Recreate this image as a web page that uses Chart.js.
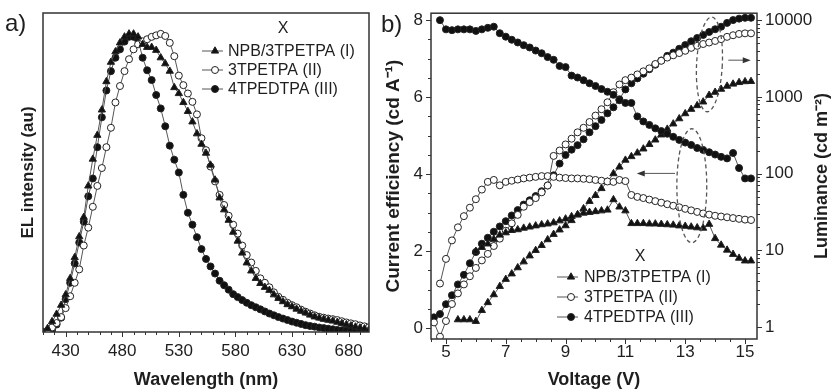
<!DOCTYPE html>
<html>
<head>
<meta charset="utf-8">
<script src="https://cdn.jsdelivr.net/npm/chart.js@4.4.0/dist/chart.umd.min.js"></script>
<style>
  body { margin: 0; background: #fff; }
  #wrap { position: relative; width: 834px; height: 392px; overflow: hidden; font-family: 'Liberation Sans', Arial, sans-serif; }
  canvas { position: absolute; top: 0; }
  #elChart { left: 0; }
  #ivlChart { left: 375px; }
  .tag { position: absolute; font-size: 24px; line-height: 24px; color: #1e1e1e; }
</style>
</head>
<body>
<div id="wrap">
  <canvas id="elChart" width="375" height="392"></canvas>
  <canvas id="ivlChart" width="459" height="392"></canvas>
  <div class="tag" style="left:5px; top:11px">a)</div>
  <div class="tag" style="left:381px; top:12px">b)</div>
</div>
<script>
// ---- panel a: EL spectra ----
const wavelength = [
  410, 414, 418, 422, 426, 430, 434, 438, 442, 446,
  450, 454, 458, 462, 466, 470, 474, 478, 482, 486,
  490, 494, 498, 502, 506, 510, 514, 518, 522, 526,
  530, 534, 538, 542, 546, 550, 554, 558, 562, 566,
  570, 574, 578, 582, 586, 590, 594, 598, 602, 606,
  610, 614, 618, 622, 626, 630, 634, 638, 642, 646,
  650, 654, 658, 662, 666, 670, 674, 678, 682, 686,
  690, 694, 698
];
const elNPB = [
  0.0, 0.012, 0.035, 0.06, 0.09, 0.125, 0.18, 0.25, 0.32, 0.385,
  0.49, 0.58, 0.66, 0.745, 0.84, 0.905, 0.94, 0.97, 0.99, 1.0,
  1.0, 0.99, 0.965, 0.955, 0.955, 0.945, 0.92, 0.9, 0.875, 0.82,
  0.80, 0.77, 0.74, 0.705, 0.665, 0.63, 0.60, 0.56, 0.51, 0.45,
  0.41, 0.375, 0.335, 0.305, 0.265, 0.232, 0.205, 0.18, 0.163, 0.15,
  0.14, 0.125, 0.113, 0.102, 0.092, 0.085, 0.077, 0.07, 0.064, 0.057,
  0.051, 0.047, 0.043, 0.04, 0.037, 0.033, 0.029, 0.025, 0.021, 0.017,
  0.014, 0.011, 0.008
];
const el3TPETPA = [
  0.0, 0.004, 0.015, 0.03, 0.05, 0.08, 0.12, 0.165, 0.21, 0.29,
  0.35, 0.42, 0.49, 0.55, 0.62, 0.685, 0.77, 0.825, 0.875, 0.915,
  0.948, 0.965, 0.975, 0.982, 0.99, 0.995, 1.0, 0.993, 0.97, 0.925,
  0.86, 0.828, 0.80, 0.772, 0.73, 0.65, 0.61, 0.555, 0.505, 0.46,
  0.426, 0.39, 0.36, 0.33, 0.29, 0.258, 0.233, 0.205, 0.18, 0.165,
  0.15, 0.133, 0.118, 0.108, 0.098, 0.09, 0.083, 0.075, 0.068, 0.062,
  0.056, 0.051, 0.048, 0.045, 0.043, 0.04, 0.036, 0.032, 0.029, 0.026,
  0.022, 0.019, 0.016
];
const el4TPEDTPA = [
  0.0, 0.0, 0.006, 0.025, 0.048, 0.11, 0.165, 0.23, 0.30, 0.37,
  0.455, 0.515, 0.62, 0.72, 0.81, 0.875, 0.92, 0.948, 0.974, 0.99,
  0.99, 0.98, 0.92, 0.878, 0.845, 0.795, 0.75, 0.69, 0.625, 0.578,
  0.535, 0.46, 0.40, 0.36, 0.318, 0.278, 0.245, 0.22, 0.196, 0.172,
  0.157, 0.142, 0.127, 0.117, 0.107, 0.098, 0.09, 0.083, 0.076, 0.069,
  0.062, 0.056, 0.05, 0.045, 0.04, 0.035, 0.031, 0.027, 0.023, 0.02,
  0.018, 0.015, 0.013, 0.011, 0.009, 0.007, 0.006, 0.005, 0.004, 0.003,
  0.002, 0.001, 0.0
];

// ---- panel b: efficiency and luminance vs voltage ----
const voltage = [
  4.6, 4.8, 5.0, 5.2, 5.4, 5.6, 5.8, 6.0, 6.2, 6.4,
  6.6, 6.8, 7.0, 7.2, 7.4, 7.6, 7.8, 8.0, 8.2, 8.4,
  8.6, 8.8, 9.0, 9.2, 9.4, 9.6, 9.8, 10.0, 10.2, 10.4,
  10.6, 10.8, 11.0, 11.2, 11.4, 11.6, 11.8, 12.0, 12.2, 12.4,
  12.6, 12.8, 13.0, 13.2, 13.4, 13.6, 13.8, 14.0, 14.2, 14.4,
  14.6, 14.8, 15.0, 15.2
];
const ceNPB = [
  null, null, null, null, null, null, null, 2.0, 2.1, 2.19,
  2.31, 2.42, 2.48, 2.54, 2.56, 2.6, 2.63, 2.66, 2.69, 2.71,
  2.74, 2.79, 2.84, 2.9, 2.95, 2.99, 3.01, 3.03, 3.05, 3.07,
  3.34, 3.15, 3.05, 2.72, 2.72, 2.72, 2.71, 2.71, 2.7, 2.69,
  2.68, 2.66, 2.65, 2.63, 2.61, 2.6, 2.7, 2.33, 2.16, 2.03,
  1.92, 1.82, 1.75, 1.75
];
const ce3TPETPA = [
  null, 1.16, 1.8, 2.28, 2.62, 2.91, 3.13, 3.35, 3.6, 3.8,
  3.85, 3.71, 3.8, 3.83, 3.86, 3.89, 3.91, 3.93, 3.95, 3.95,
  3.93, 3.91, 3.9, 3.89, 3.89, 3.88, 3.87, 3.85, 3.83, 3.81,
  3.8, 3.85, 3.82, 3.46, 3.41, 3.38, 3.34, 3.3, 3.26, 3.22,
  3.18, 3.14, 3.1, 3.06, 3.02, 2.98, 2.95, 2.92, 2.9, 2.88,
  2.86, 2.84, 2.82, 2.81
];
const ce4TPEDTPA = [
  null, 8.0, 7.76, 7.74, 7.76, 7.76, 7.76, 7.72, 7.76, 7.8,
  7.83, 7.66, 7.57, 7.49, 7.42, 7.35, 7.29, 7.21, 7.14, 7.04,
  6.97, 6.81, 6.78, 6.56, 6.51, 6.44, 6.36, 6.29, 6.21, 6.14,
  6.06, 5.92, 5.85, 5.85, 5.5, 5.37, 5.28, 5.19, 5.12, 5.05,
  4.97, 4.89, 4.82, 4.76, 4.68, 4.63, 4.57, 4.51, 4.45, 4.41,
  4.55, 4.16, 3.89, 3.89
];
const lumNPB = [
  null, null, null, null, 1.25, 1.25, 1.25, 1.19, 1.65, 2.09,
  2.65, 3.4, 4.2, 4.95, 5.95, 7.1, 8.5, 10, 11.6, 13.8,
  16.2, 18.5, 21, 24.5, 29, 35, 43.5, 52, 64, 78,
  100, 122, 150, 167, 186, 210, 240, 275, 320, 380,
  445, 520, 605, 690, 770, 860, 1050, 1150, 1260, 1380,
  1470, 1540, 1580, 1590
];
const lum3TPETPA = [
  1.15, 0.75, 1.2, 2.0, 2.75, 3.6, 4.6, 5.9, 7.4, 9.0,
  11.4, 14.2, 18, 22.5, 29, 37, 42.5, 48, 57, 70,
  170, 200, 240, 285, 345, 395, 470, 570, 690, 850,
  1150, 1450, 1650, 1780, 1960, 2150, 2350, 2680, 2950, 3250,
  3480, 3720, 3980, 4350, 4620, 4880, 5100, 5350, 5650, 6050,
  6350, 6600, 6720, 6720
];
const lum4TPEDTPA = [
  1.34, 1.48, 1.99, 2.6, 3.6, 4.8, 6.8, 9.5, 12.2, 14.6,
  17.5, 20.5, 24, 28.5, 33.5, 39.5, 45, 51, 59, 70,
  95, 135, 175, 205, 235, 280, 345, 415, 500, 610,
  730, 930, 1250, 1500, 1740, 2000, 2290, 2620, 2980, 3420,
  3766, 4230, 4730, 5300, 5850, 6400, 7000, 7600, 8200, 9200,
  10000, 10450, 10700, 10720
];

const seriesNames = ['NPB/3TPETPA (I)', '3TPETPA (II)', '4TPEDTPA (III)'];
const wlTickLabels = [430, 480, 530, 580, 630, 680];
const voltTickLabels = [5, 7, 9, 11, 13, 15];
const ceTickLabels = [0, 2, 4, 6, 8];
const lumTickLabels = [1, 10, 100, 1000, 10000];

const FONT = "'Liberation Sans', Arial, sans-serif";
const INK = '#1e1e1e';
const LINE = '#555';
const FRAME = '#333';

Chart.defaults.font.family = FONT;
Chart.defaults.color = INK;

// one marker look per device, shared by both panels
const markers = [
  { pointStyle: 'triangle', radius: 4.2, fill: '#111' },
  { pointStyle: 'circle', radius: 3.5, fill: '#fff' },
  { pointStyle: 'circle', radius: 3.5, fill: '#111' }
];

function pts(xs, ys) {
  return xs.map((x, i) => ({ x: x, y: ys[i] }));
}

function makeSet(label, data, m, axis) {
  return {
    label: label,
    data: data,
    yAxisID: axis,
    borderColor: LINE,
    borderWidth: 1,
    pointStyle: m.pointStyle,
    pointRadius: m.radius,
    pointHoverRadius: m.radius,
    pointBackgroundColor: m.fill,
    pointBorderColor: '#222',
    pointBorderWidth: 1,
    tension: 0,
    spanGaps: false
  };
}

function near(list, v) {
  return list.some(t => Math.abs(t - v) < 1e-6);
}

// frame, tick marks (long for labelled ticks, short otherwise) and the legend block
function decorPlugin(cfg) {
  return {
    id: 'decor',
    afterDraw(chart) {
      const ctx = chart.ctx;
      const ca = chart.chartArea;
      ctx.save();
      ctx.strokeStyle = FRAME;
      ctx.lineWidth = 1;
      cfg.axes.forEach(a => {
        const sc = chart.scales[a.id];
        sc.ticks.forEach(t => {
          if (t.value < sc.min - 1e-9 || t.value > sc.max + 1e-9) return;
          const len = near(a.labels, t.value) ? 5 : 3;
          const p = Math.round(sc.getPixelForValue(t.value)) + 0.5;
          ctx.beginPath();
          if (sc.isHorizontal()) {
            ctx.moveTo(p, ca.bottom);
            ctx.lineTo(p, ca.bottom + len);
          } else if (sc.position === 'left') {
            ctx.moveTo(ca.left, p);
            ctx.lineTo(ca.left - len, p);
          } else {
            ctx.moveTo(ca.right, p);
            ctx.lineTo(ca.right + len, p);
          }
          ctx.stroke();
        });
      });
      ctx.lineWidth = 1.5;
      ctx.strokeRect(ca.left, ca.top, ca.right - ca.left, ca.bottom - ca.top);

      // legend
      const lg = cfg.legend;
      ctx.font = '16px ' + FONT;
      ctx.fillStyle = INK;
      ctx.textBaseline = 'middle';
      ctx.textAlign = 'center';
      ctx.fillText('X', lg.xMid, lg.titleY);
      ctx.textAlign = 'left';
      seriesNames.forEach((name, i) => {
        const y = lg.rows[i];
        ctx.strokeStyle = LINE;
        ctx.lineWidth = 1;
        ctx.beginPath();
        ctx.moveTo(lg.x0, y);
        ctx.lineTo(lg.x1, y);
        ctx.stroke();
        const m = markers[i];
        ctx.fillStyle = m.fill;
        ctx.strokeStyle = '#222';
        Chart.helpers.drawPoint(ctx, { pointStyle: m.pointStyle, radius: m.radius, rotation: 0, borderWidth: 1 }, lg.xm, y);
        ctx.fillStyle = INK;
        ctx.fillText(name, lg.xt, y + 1);
      });
      if (cfg.extra) cfg.extra(chart, ctx);
      ctx.restore();
    }
  };
}

// ---------- panel a ----------
new Chart(document.getElementById('elChart'), {
  type: 'line',
  data: {
    datasets: [
      makeSet(seriesNames[0], pts(wavelength, elNPB), markers[0], 'y'),
      makeSet(seriesNames[1], pts(wavelength, el3TPETPA), markers[1], 'y'),
      makeSet(seriesNames[2], pts(wavelength, el4TPEDTPA), markers[2], 'y')
    ]
  },
  options: {
    responsive: false,
    animation: false,
    layout: { padding: { top: 13, right: 6, left: 0, bottom: 0 } },
    plugins: { legend: { display: false }, tooltip: { enabled: false } },
    scales: {
      x: {
        type: 'linear', min: 410, max: 698,
        afterFit: s => { s.height = 60; },
        ticks: {
          stepSize: 10, autoSkip: false, maxRotation: 0, includeBounds: false,
          padding: 4, color: INK, font: { size: 17 },
          callback: v => near(wlTickLabels, v) ? String(v) : ''
        },
        grid: { drawOnChartArea: false, tickLength: 5, tickColor: 'transparent' },
        border: { display: false },
        title: { display: true, text: 'Wavelength (nm)', color: INK, font: { size: 18, weight: 'bold' }, padding: { top: 0, bottom: 1 } }
      },
      y: {
        type: 'linear', min: 0, max: 1.07,
        afterFit: s => { s.width = 43; },
        ticks: { display: false },
        grid: { display: false },
        border: { display: false },
        title: { display: true, text: 'EL intensity (au)', color: INK, font: { size: 17, weight: 'bold' }, padding: { top: 18, bottom: 0 } }
      }
    }
  },
  plugins: [decorPlugin({
    axes: [{ id: 'x', labels: wlTickLabels }],
    legend: { xMid: 283, titleY: 29, rows: [51, 70, 89], x0: 202, x1: 223, xm: 215, xt: 228 }
  })]
});

// ---------- panel b ----------
const lumTicks = [];
lumTickLabels.forEach(d => {
  for (let k = 1; k <= 9; k++) {
    if (d * k <= 10000) lumTicks.push(d * k);
  }
});

function drawNotes(chart, ctx) {
  const xs = chart.scales.x;
  const ys = chart.scales.y;
  ctx.strokeStyle = '#555';
  ctx.lineWidth = 1.3;
  ctx.setLineDash([4, 3]);
  [[13.81, 6.85, 0.43, 1.23, 0.05], [13.22, 3.70, 0.5, 1.48, 0]].forEach(e => {
    const cx = xs.getPixelForValue(e[0]);
    const cy = ys.getPixelForValue(e[1]);
    const rx = Math.abs(xs.getPixelForValue(e[0] + e[2]) - cx);
    const ry = Math.abs(ys.getPixelForValue(e[1] + e[3]) - cy);
    ctx.beginPath();
    ctx.ellipse(cx, cy, rx, ry, e[4], 0, Math.PI * 2);
    ctx.stroke();
  });
  ctx.setLineDash([]);
  ctx.lineWidth = 1;
  ctx.fillStyle = '#333';
  [[14.44, 15.19, 6.96], [12.66, 11.38, 4.02]].forEach(a => {
    const x0 = xs.getPixelForValue(a[0]);
    const x1 = xs.getPixelForValue(a[1]);
    const y = ys.getPixelForValue(a[2]);
    const dir = x1 > x0 ? 1 : -1;
    ctx.beginPath();
    ctx.moveTo(x0, y);
    ctx.lineTo(x1 - dir * 6, y);
    ctx.stroke();
    ctx.beginPath();
    ctx.moveTo(x1, y);
    ctx.lineTo(x1 - dir * 8, y - 3);
    ctx.lineTo(x1 - dir * 8, y + 3);
    ctx.closePath();
    ctx.fill();
  });
  // right axis title reads bottom to top
  const ca = chart.chartArea;
  ctx.save();
  ctx.translate(447, (ca.top + ca.bottom) / 2);
  ctx.rotate(-Math.PI / 2);
  ctx.font = 'bold 18px ' + FONT;
  ctx.fillStyle = INK;
  ctx.textAlign = 'center';
  ctx.textBaseline = 'middle';
  ctx.fillText('Luminance (cd m\u207B\u00B2)', 0, 0);
  ctx.restore();
}

new Chart(document.getElementById('ivlChart'), {
  type: 'line',
  data: {
    datasets: [
      makeSet(seriesNames[2] + ' CE', pts(voltage, ce4TPEDTPA), markers[2], 'y'),
      makeSet(seriesNames[1] + ' CE', pts(voltage, ce3TPETPA), markers[1], 'y'),
      makeSet(seriesNames[0] + ' CE', pts(voltage, ceNPB), markers[0], 'y'),
      makeSet(seriesNames[0] + ' L', pts(voltage, lumNPB), markers[0], 'y2'),
      makeSet(seriesNames[1] + ' L', pts(voltage, lum3TPETPA), markers[1], 'y2'),
      makeSet(seriesNames[2] + ' L', pts(voltage, lum4TPEDTPA), markers[2], 'y2')
    ]
  },
  options: {
    responsive: false,
    animation: false,
    layout: { padding: { top: 13, right: 0, left: 0, bottom: 0 } },
    plugins: { legend: { display: false }, tooltip: { enabled: false } },
    scales: {
      x: {
        type: 'linear', min: 4.5, max: 15.4,
        afterFit: s => { s.height = 53; },
        ticks: {
          stepSize: 0.5, autoSkip: false, maxRotation: 0, includeBounds: false,
          padding: 0, color: INK, font: { size: 17 },
          callback: v => near(voltTickLabels, v) ? String(v) : ''
        },
        grid: { drawOnChartArea: false, tickLength: 3, tickColor: 'transparent' },
        border: { display: false },
        title: { display: true, text: 'Voltage (V)', color: INK, font: { size: 18, weight: 'bold' }, padding: { top: 0, bottom: 1 } }
      },
      y: {
        type: 'linear', position: 'left', min: -0.28, max: 8.18,
        afterFit: s => { s.width = 56; },
        ticks: {
          stepSize: 0.5, autoSkip: false, includeBounds: false,
          padding: 3, color: INK, font: { size: 17 },
          callback: v => near(ceTickLabels, v) ? String(v) : ''
        },
        grid: { drawOnChartArea: false, tickLength: 5, tickColor: 'transparent' },
        border: { display: false },
        title: { display: true, text: 'Current efficiency (cd A\u207B\u00B9)', color: INK, font: { size: 19, weight: 'bold' }, padding: { top: 7, bottom: 0 } }
      },
      y2: {
        type: 'logarithmic', position: 'right', min: 0.72, max: 12300,
        afterFit: s => { s.width = 77; },
        afterBuildTicks: s => { s.ticks = lumTicks.map(v => ({ value: v })); },
        ticks: {
          autoSkip: false, padding: 3, color: INK, font: { size: 17 },
          callback: v => near(lumTickLabels, v) ? String(v) : ''
        },
        grid: { drawOnChartArea: false, tickLength: 5, tickColor: 'transparent' },
        border: { display: false },
        title: { display: false }
      }
    }
  },
  plugins: [decorPlugin({
    axes: [
      { id: 'x', labels: voltTickLabels },
      { id: 'y', labels: ceTickLabels },
      { id: 'y2', labels: lumTickLabels }
    ],
    legend: { xMid: 265, titleY: 257, rows: [277, 297, 317], x0: 182, x1: 203, xm: 196, xt: 209 },
    extra: drawNotes
  })]
});
</script>
</body>
</html>
